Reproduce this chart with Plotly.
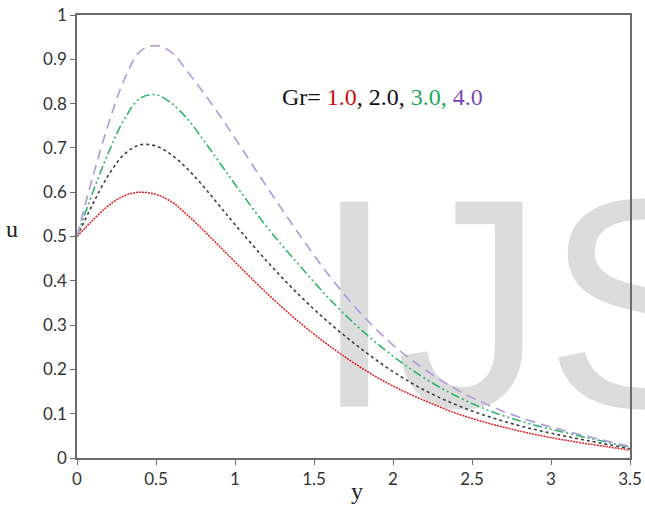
import plotly.graph_objects as go

# ---- data ----
y_pos = [0, 0.1, 0.2, 0.3, 0.4, 0.5, 0.6, 0.7, 0.8, 0.9, 1.0, 1.2, 1.4, 1.6, 1.8, 2.0, 2.2, 2.4, 2.6, 2.8, 3.0, 3.25, 3.5]

u_gr1 = [0.5, 0.537, 0.57, 0.592, 0.600, 0.595, 0.578, 0.548, 0.514, 0.4785, 0.4425, 0.3725, 0.3085, 0.2525, 0.2035, 0.1625,
         0.1295, 0.101, 0.079, 0.061, 0.046, 0.031, 0.018]
u_gr2 = [0.5, 0.573, 0.639, 0.686, 0.707, 0.704, 0.684, 0.652, 0.613, 0.570, 0.527, 0.445, 0.370, 0.304, 0.246, 0.195,
         0.153, 0.120, 0.094, 0.073, 0.056, 0.038, 0.021]
u_gr3 = [0.5, 0.6, 0.69, 0.765, 0.812, 0.82, 0.80, 0.765, 0.718, 0.668, 0.618, 0.522, 0.438, 0.358, 0.289, 0.23,
         0.18, 0.14, 0.108, 0.084, 0.065, 0.044, 0.024]
u_gr4 = [0.5, 0.635, 0.755, 0.855, 0.918, 0.931, 0.915, 0.872, 0.825, 0.775, 0.722, 0.613, 0.508, 0.41, 0.325, 0.255,
         0.2, 0.155, 0.12, 0.092, 0.07, 0.047, 0.026]

x_ticks = [0, 0.5, 1, 1.5, 2, 2.5, 3, 3.5]
y_ticks = [0, 0.1, 0.2, 0.3, 0.4, 0.5, 0.6, 0.7, 0.8, 0.9, 1]

fig = go.Figure()

# watermark (drawn first so the curves sit above it)
fig.add_trace(go.Scatter(
    x=[2.855], y=[0.284], mode="text", text=["IJS"],
    textposition="middle center",
    textfont=dict(family="Liberation Sans", size=298, color="#dcdcdc"),
    cliponaxis=False, hoverinfo="skip", showlegend=False))

fig.add_trace(go.Scatter(x=y_pos, y=u_gr1, mode="lines", line_shape="spline",
                         line=dict(color="#e02020", width=1.5, dash="2px,1px"), showlegend=False))
fig.add_trace(go.Scatter(x=y_pos, y=u_gr2, mode="lines", line_shape="spline",
                         line=dict(color="#404040", width=1.6, dash="3px,3px"), showlegend=False))
fig.add_trace(go.Scatter(x=y_pos, y=u_gr3, mode="lines", line_shape="spline",
                         line=dict(color="#2fb56a", width=1.6, dash="9px,3px,2px,3px,2px,3px"), showlegend=False))
fig.add_trace(go.Scatter(x=y_pos, y=u_gr4, mode="lines", line_shape="spline",
                         line=dict(color="#b39ddb", width=1.7, dash="10px,6px"), showlegend=False))

axis_common = dict(showline=True, linecolor="#6b6b6b", linewidth=1.5, mirror=True,
                   ticks="outside", ticklen=5, tickcolor="#6b6b6b", tickwidth=1.3,
                   showgrid=False, zeroline=False, automargin=False,
                   tickfont=dict(family="Lato", size=17, color="#333333"))

fig.update_xaxes(range=[0, 3.5], tickvals=x_ticks, **axis_common)
fig.update_yaxes(range=[0, 1], tickvals=y_ticks, **axis_common)

fig.add_annotation(xref="paper", yref="paper", x=0.5055, xanchor="center",
                   y=-0.04, yanchor="top",
                   text="y", showarrow=False,
                   font=dict(family="Liberation Serif", size=24, color="#222222"))
fig.add_annotation(xref="paper", yref="paper", x=-0.1175, xanchor="center",
                   y=0.517, yanchor="middle",
                   text="u", showarrow=False,
                   font=dict(family="Liberation Serif", size=24, color="#222222"))
fig.add_annotation(xref="paper", yref="paper", x=0.367, xanchor="left",
                   y=0.815, yanchor="middle",
                   text=("Gr= <span style='color:#cc1111'>1.0</span>, 2.0, "
                         "<span style='color:#1ea85e'>3.0, </span>"
                         "<span style='color:#7a45b8'>4.0</span>"),
                   showarrow=False,
                   font=dict(family="Liberation Serif", size=24, color="#111111"))

fig.update_layout(width=645, height=506, margin=dict(l=77, r=15, t=15, b=48),
                  paper_bgcolor="white", plot_bgcolor="white")

fig.write_html("out.html")
